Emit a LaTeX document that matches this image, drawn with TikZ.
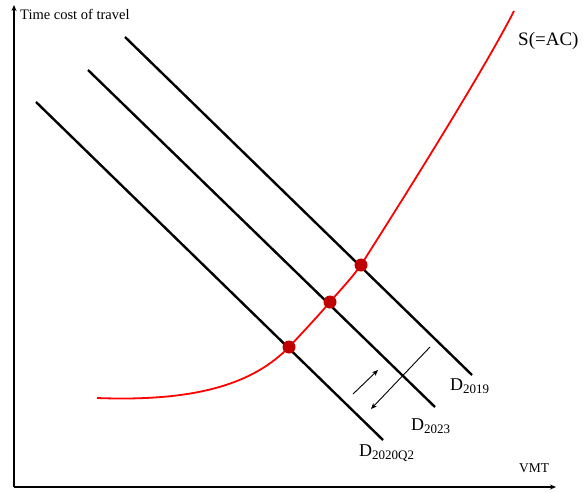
\documentclass[tikz,border=0pt]{standalone}
\usepackage{fontspec}
\setmainfont{Liberation Serif}
\usetikzlibrary{arrows.meta}
\begin{document}
\begin{tikzpicture}[x=1pt,y=-1pt,
  axis/.style={line width=1.4pt,-{Stealth[length=6pt,width=5pt]}},
  demand/.style={line width=2.4pt},
  supply/.style={red,line width=1.8pt},
  eqdot/.style={circle,fill=dotred,inner sep=0pt,minimum size=13pt},
  shiftarrow/.style={line width=0.9pt,-{Stealth[length=6pt,width=5pt]}},
  lab/.style={inner sep=0pt,anchor=base west}]
\definecolor{dotred}{HTML}{C00000}
\useasboundingbox (0,0) rectangle (587,493);
% axes
\coordinate (O) at (14,487);
\coordinate (Ytop) at (14,5);
\coordinate (Xend) at (556,487);
\draw[axis] (O) -- (Ytop);
\draw[axis] (O) -- (Xend);
\node[lab,font=\fontsize{14.5}{16}\selectfont] (ylab) at (20,19) {Time cost of travel};
\node[lab,font=\fontsize{13.5}{15}\selectfont] (xlab) at (519,472) {VMT};
% demand lines
\coordinate (a1) at (125,37);  \coordinate (a2) at (472,375);
\coordinate (b1) at (88,70);   \coordinate (b2) at (435,407);
\coordinate (c1) at (36,102);  \coordinate (c2) at (383,440);
\draw[demand] (a1) -- (a2);
\draw[demand] (b1) -- (b2);
\draw[demand] (c1) -- (c2);
% equilibrium points
\coordinate (p1) at (361,265);
\coordinate (p2) at (330,302);
\coordinate (p3) at (289,347);
\coordinate (sstart) at (97,398);
\coordinate (send) at (514,11);
% supply curve
\draw[supply] (sstart) .. controls (200,402) and (255,382) .. (p3)
  .. controls (305,330) and (318,316) .. (p2)
  .. controls (342,288) and (351,279) .. (p1)
  .. controls (410,188) and (485,68) .. (send);
\node[lab,font=\fontsize{19}{21}\selectfont] (slab) at (518,45) {S(=AC)};
% equilibrium dots
\node[eqdot] (e1) at (p1) {};
\node[eqdot] (e2) at (p2) {};
\node[eqdot] (e3) at (p3) {};
% shift arrows
\coordinate (s1a) at (353,394); \coordinate (s1b) at (378,370);
\coordinate (s2a) at (430,347); \coordinate (s2b) at (371,409);
\draw[shiftarrow] (s1a) -- (s1b);
\draw[shiftarrow] (s2a) -- (s2b);
% labels
\node[lab,font=\fontsize{18}{20}\selectfont] (d19) at (450,390) {D\raisebox{-3.5pt}{\fontsize{13}{14}\selectfont 2019}};
\node[lab,font=\fontsize{18}{20}\selectfont] (d23) at (411,430) {D\raisebox{-3.5pt}{\fontsize{13}{14}\selectfont 2023}};
\node[lab,font=\fontsize{18}{20}\selectfont] (d20) at (359,456) {D\raisebox{-3.5pt}{\fontsize{13}{14}\selectfont 2020Q2}};
\end{tikzpicture}
\end{document}
